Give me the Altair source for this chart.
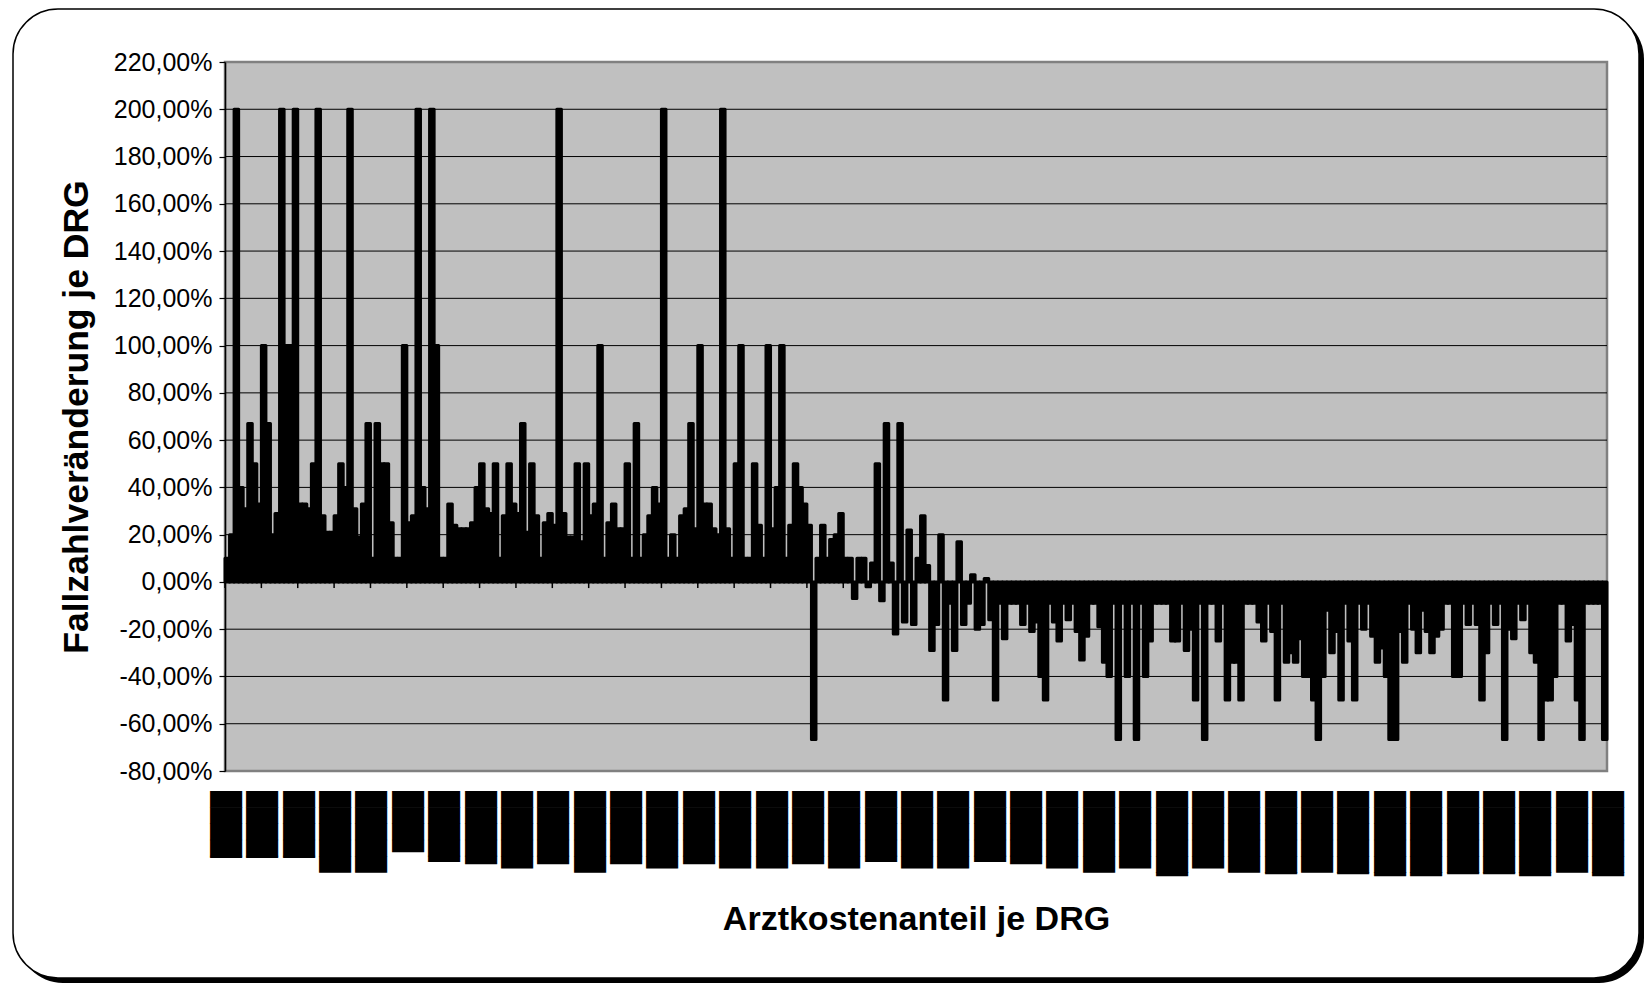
import altair as alt
import pandas as pd

# Fallzahlveränderung je DRG in %, DRGs ordered by Arztkostenanteil
chg_1 = [10, 20, 200, 40, 31, 67, 50, 33, 100, 67,
         20, 29, 200, 100, 100, 200, 33, 33, 31, 50,
         200, 28, 21, 21, 28, 50, 40, 200, 31, 19,
         33, 67, 10, 67, 50, 50, 25, 10, 10]
chg_2 = [100, 25,
         28, 200, 40, 31, 200, 100, 10, 10, 33, 24,
         22.5, 22.5, 22.5, 25, 40, 50, 31, 29, 50, 10,
         28, 50, 33, 29, 67, 21, 50, 28, 10, 25,
         29, 24, 200, 29, 19, 19, 50, 17, 50, 28,
         33, 100, 10, 25, 33, 22.5, 22.5, 50, 10, 67,
         10, 20, 28, 40, 33, 200, 10, 20, 10, 28,
         31, 67, 22.5, 100, 33, 33, 22.5, 20, 200, 22.5,
         10, 50, 100, 10, 10]
chg_3 = [50, 24, 10, 100, 22.5, 40,
         100, 10, 24, 50, 40, 33, 24, -66.67, 10, 24,
         10, 18, 20, 29, 10, 10, -7, 10, 10, -2,
         8, 50, -8, 67, 8, -22, 67, -17, 22, -18,
         10, 28, 7, -29, -18, 20, -50, -9, -29, 17,
         -18, -9, 3, -20, -18, 1.5, -16, -50, -9, -24,
         -9, -9, -9, -18, -9, -21, -17, -40, -50, -9,
         -17, -25, -9, -16, -9, -21, -33, -23, -9, -9]
chg_4 = [-19,
         -34, -40, -9, -66.67, -9, -40, -9, -66.67, -9, -40,
         -25, -9, -9, -9, -9, -25, -25, -9, -29, -20,
         -50, -9, -66.67, -9, -9, -25, -9, -50, -34, -34,
         -50, -9, -9, -9, -17, -25, -9, -21, -50, -9,
         -34, -30, -34, -24, -40, -40, -50, -66.67, -40, -12,
         -30, -21, -50, -9, -25, -50, -9, -20, -9, -23,
         -34, -28, -40, -66.67, -66.67, -21, -34, -9, -20, -30,
         -12, -21, -30, -23, -20, -9, -9, -40, -40, -9, -18,
         -9, -18, -50, -30, -9, -18, -9, -66.67, -20, -24,
         -9, -16, -9, -30, -34, -66.67, -50, -50, -40, -9,
         -9, -25, -18, -50, -66.67, -9, -9, -9, -9, -66.67]

values = chg_1 + chg_2 + chg_3 + chg_4
N = len(values)

y_ticks = [-80, -60, -40, -20, 0, 20, 40, 60, 80, 100, 120, 140, 160, 180, 200, 220]
grid_vals = [-60, -40, -20, 0, 20, 40, 60, 80, 100, 120, 140, 160, 180, 200]
x_tick_pos = list(range(0, N + 1, 8))
# category labels, rendered in the original as solid black blocks
x_tick_labels = ["████▏", "████▏", "████▏", "█████", "█████", "███▊", "████▍", "████▌",
                 "████▊", "████▌", "█████", "████▌", "████▊", "████▌", "████▊", "████▊",
                 "████▌", "████▊", "████▍", "████▊", "████▊", "████▍", "████▌", "████▊",
                 "█████", "████▊", "█████▎", "████▊", "█████", "█████▏", "█████", "█████▏",
                 "█████▎", "█████▎", "█████▏", "█████▏", "█████▎", "█████", "█████▎"]

W, H = 1382, 709
FONT = "Liberation Sans"

df = pd.DataFrame({"i": list(range(N)), "v": values})
df["i1"] = df["i"] + 1

xs = alt.Scale(domain=[0, N], nice=False, zero=False)
ys = alt.Scale(domain=[-80, 220], nice=False, zero=False)

yaxis = alt.Axis(
    values=y_ticks,
    labelExpr="(datum.value < 0 ? '-' : '') + replace(format(abs(datum.value), '.2f'), '.', ',') + '%'",
    labelFont=FONT, labelFontSize=25, labelColor="black", labelPadding=7,
    tickSize=6, tickColor="black", tickWidth=1.2,
    domainColor="black", domainWidth=1.5, grid=False,
    title="Fallzahlveränderung je DRG", titleFont=FONT, titleFontSize=35.5,
    titleFontWeight="bold", titleColor="black",
    titleX=-149, titleY=H / 2, titleAngle=270, titleAlign="center", titleBaseline="middle",
    zindex=1,
)
xaxis = alt.Axis(
    values=x_tick_pos, labels=False,
    ticks=False, domain=False, grid=False,
    title="Arztkostenanteil je DRG", titleFont=FONT, titleFontSize=34,
    titleFontWeight="bold", titleColor="black",
    titleX=W / 2, titleY=158, titleAlign="center", titleBaseline="alphabetic",
    zindex=1,
)

one = pd.DataFrame({"k": [0]})

shadow = alt.Chart(one).mark_rect(fill="black", cornerRadius=45).encode(
    x=alt.value(-207), x2=alt.value(1419), y=alt.value(-48), y2=alt.value(921))
frame = alt.Chart(one).mark_rect(fill="white", stroke="black", strokeWidth=1.5, cornerRadius=45).encode(
    x=alt.value(-212), x2=alt.value(1414), y=alt.value(-53), y2=alt.value(916))
plotbg = alt.Chart(one).mark_rect(fill="#C0C0C0", stroke="#808080", strokeWidth=2.5).encode(
    x=alt.value(0), x2=alt.value(W), y=alt.value(0), y2=alt.value(H))

grid = alt.Chart(pd.DataFrame({"g": grid_vals})).mark_rule(color="black", strokeWidth=1).encode(
    y=alt.Y("g:Q", scale=ys, axis=yaxis), x=alt.value(0), x2=alt.value(W))

bars = alt.Chart(df).mark_bar(color="black", stroke="black", strokeWidth=3, strokeJoin="round").encode(
    x=alt.X("i:Q", scale=xs, axis=xaxis),
    x2="i1:Q",
    y=alt.Y("v:Q", scale=ys, axis=yaxis),
    y2=alt.datum(0),
)

zero_ticks = alt.Chart(pd.DataFrame({"t": x_tick_pos})).mark_rule(color="black", strokeWidth=1.5).encode(
    x=alt.X("t:Q", scale=xs), y=alt.datum(0), y2=alt.datum(-2.6))

cat_labels = alt.Chart(pd.DataFrame({"t": x_tick_pos, "lab": x_tick_labels})).mark_text(
    angle=90, align="left", baseline="middle", font="DejaVu Sans Mono", fontSize=27,
    color="black", dx=20,
).encode(x=alt.X("t:Q", scale=xs), y=alt.datum(-80), text="lab:N")

chart = alt.layer(shadow, frame, plotbg, grid, bars, zero_ticks, cat_labels).properties(
    width=W, height=H,
    padding={"left": 217, "top": 54, "right": 37, "bottom": 212},
    autosize=alt.AutoSizeParams(type="none"),
    background="white",
).configure_view(stroke=None)

chart.save("out.html", embed_options={"renderer": "svg", "actions": False})
